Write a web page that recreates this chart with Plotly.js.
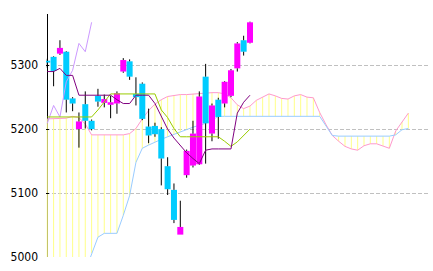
<!DOCTYPE html>
<html><head><meta charset="utf-8">
<script src="https://cdn.plot.ly/plotly-3.0.1.min.js"></script>
<style>html,body{margin:0;padding:0;background:#fff;}#chart{width:433px;height:271px;}</style>
</head><body><div id="chart"></div>
<script>
// ---- data ----
const opens  = [5307,5313,5318,5321,5248,5200,5239,5213,5252,5241,5238,5240,5290,5306,5255,5271,5204,5205,5200,5142,5105,5035,5128,5143,5145,5282,5193,5246,5240,5252,5295,5339,5335];
const highs  = [5310,5314,5339,5322,5250,5226,5259,5215,5263,5254,5252,5259,5311,5309,5281,5273,5232,5210,5203,5156,5115,5088,5168,5213,5259,5302,5240,5249,5275,5294,5336,5346,5368];
const lows   = [5296,5267,5316,5226,5228,5171,5201,5198,5235,5234,5217,5224,5288,5277,5237,5214,5178,5188,5112,5097,5053,5035,5124,5140,5144,5146,5181,5185,5234,5250,5290,5315,5334];
const closes = [5304,5291,5327,5246,5240,5212,5213,5200,5243,5247,5242,5256,5308,5282,5250,5216,5190,5192,5154,5106,5058,5047,5166,5193,5251,5209,5237,5219,5274,5292,5334,5321,5367];
const tenkan = [5290,5290,5295,5284,5284,5253,5253,5253,5253,5253,5253,5246,5240,5240,5253,5253,5253,5240,5221,5200,5186,5175,5163,5154,5146,5167,5169,5169,5169,5169,5225,5242,5253];
const kijun  = [5219,5219,5219,5219,5219,5219,5219,5219,5230,5243,5255,5255,5255,5255,5255,5255,5255,5255,5230,5218,5201,5188,5188,5188,5188,5188,5188,5188,5181,5173,5180,5190,5200];
const chikou = [5209,5237,5219,5274,5292,5334,5321,5367];
const senkouA = [5216,5216,5216,5217,5220,5218,5208,5191,5191,5191,
                 5191,5191,5191,5193,5201,5216,5229,5239,5246,5251,
                 5253,5254,5254,5255,5255,5256,5257,5257,5255,5249,
                 5238,5232,5236,5245,5250,5255,5252,5248,5247,5252,
                 5254,5250,5249,5226,5207,5190,5181,5173,5169,5167,
                 5174,5177,5177,5174,5170,5197,5211,5225];
const senkouB = [4960,4960,4960,4960,4960,4960,4978,5006,5031,5037,
                 5037,5037,5065,5096,5148,5170,5175,5180,5184,5188,
                 5192,5196,5200,5203,5206,5209,5214,5220,5220,5220,
                 5220,5220,5220,5220,5220,5220,5220,5220,5220,5220,
                 5220,5220,5220,5220,5205,5190,5189,5189,5189,5189,
                 5189,5189,5189,5189,5189,5191,5199,5201];
const yTicks = [5000,5100,5200,5300];

// ---- view ----
const X_RANGE = [-0.2, 60.26];
const Y_RANGE = [5000, 5380];
const UP = '#ff00ff', DOWN = '#00ccff';

const seq = n => Array.from({length: n}, (_, i) => i);
const candleX = seq(opens.length);
const spanX = seq(senkouA.length);
const chikouX = seq(chikou.length);

const cloudX = [], cloudY = [];
spanX.forEach(i => { cloudX.push(i, i, null); cloudY.push(senkouA[i], senkouB[i], null); });
const bodyBase = candleX.map(i => Math.min(opens[i], closes[i]));
const bodyTop = candleX.map(i => Math.max(opens[i], closes[i]));
const bodyLen = candleX.map(i => bodyTop[i] - bodyBase[i]);
const bodyColor = candleX.map(i => closes[i] >= opens[i] ? UP : DOWN);
// wicks: lower shadow and upper shadow, so they never cross the body
const wickX = [], wickY = [];
candleX.forEach(i => {
  wickX.push(i, i, null, i, i, null);
  wickY.push(lows[i], bodyBase[i], null, bodyTop[i], highs[i], null);
});

const ln = (x, y, color, xa, ya) => ({type:'scatter', mode:'lines', x, y, xaxis:xa, yaxis:ya,
  line:{color, width:1}, hoverinfo:'skip', connectgaps:false});

const traces = [
  ln(cloudX, cloudY, '#ffff88', 'x', 'y'),
  ln(spanX, senkouA, '#ff99cc', 'x', 'y'),
  ln(spanX, senkouB, '#99ccff', 'x', 'y'),
  {type:'bar', x:candleX, y:bodyLen, base:bodyBase, width:0.95, xaxis:'x2', yaxis:'y2',
   marker:{color:bodyColor, line:{width:0}}, hoverinfo:'skip'},
  ln(wickX, wickY, '#000000', 'x2', 'y2'),
  ln(chikouX, chikou, '#cc99ff', 'x2', 'y2'),
  ln(candleX, kijun, '#99cc00', 'x2', 'y2'),
  ln(candleX, tenkan, '#800080', 'x2', 'y2')
];

const layout = {
  width:433, height:271,
  margin:{l:46, r:4, t:14, b:14, pad:0},
  paper_bgcolor:'#ffffff', plot_bgcolor:'#ffffff',
  showlegend:false, barmode:'overlay',
  xaxis:{range:X_RANGE, showgrid:false, zeroline:true, zerolinecolor:'#000000', zerolinewidth:1,
         showticklabels:false, ticks:'', showline:false, fixedrange:true},
  yaxis:{range:Y_RANGE, tickmode:'array', tickvals:yTicks, ticks:'inside', ticklen:3, tickwidth:1,
         tickcolor:'#000000', showgrid:true, gridcolor:'#c0c0c0', gridwidth:1, griddash:'4px,2px',
         zeroline:false, showline:false, fixedrange:true, ticklabelstandoff:7,
         tickfont:{family:'"Liberation Sans Narrow", "DejaVu Sans Condensed", sans-serif', size:12, color:'#000000'}},
  xaxis2:{range:X_RANGE, overlaying:'x', anchor:'y2', visible:false, fixedrange:true},
  yaxis2:{range:Y_RANGE, overlaying:'y', anchor:'x2', visible:false, fixedrange:true}
};
Plotly.newPlot('chart', traces, layout, {staticPlot:true, displayModeBar:false});
</script></body></html>
